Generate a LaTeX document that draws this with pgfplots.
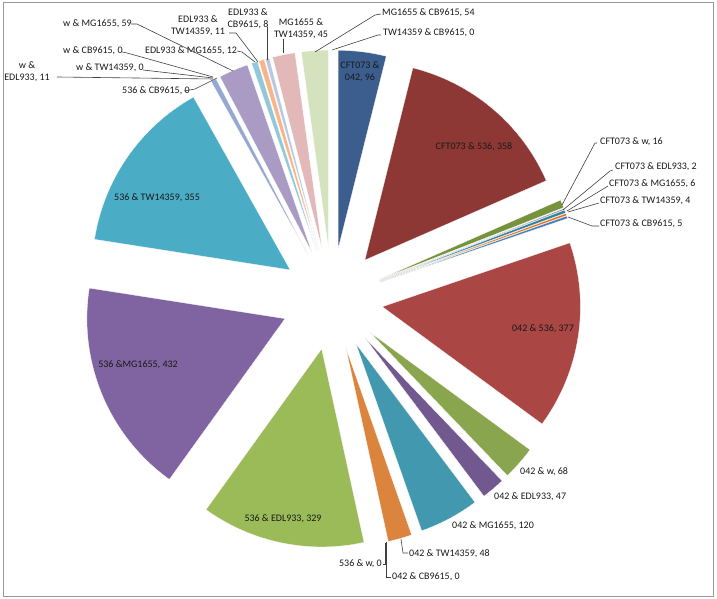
\documentclass[border=0pt]{standalone}
\usepackage{pgfplots}
\pgfplotsset{compat=1.18}
\usepackage{pgfplotstable}
\usepackage{fontspec}
\setmainfont{Carlito}

\definecolor{s0}{HTML}{3B5E8F}
\definecolor{s1}{HTML}{8E3836}
\definecolor{s2}{HTML}{76923C}
\definecolor{s3}{HTML}{5F497A}
\definecolor{s4}{HTML}{31859C}
\definecolor{s5}{HTML}{E46C0A}
\definecolor{s6}{HTML}{4A7EBB}
\definecolor{s7}{HTML}{AA4643}
\definecolor{s8}{HTML}{89A54E}
\definecolor{s9}{HTML}{71588F}
\definecolor{s10}{HTML}{4198AF}
\definecolor{s11}{HTML}{DB843D}
\definecolor{s12}{HTML}{4F81BD}
\definecolor{s13}{HTML}{C0504D}
\definecolor{s14}{HTML}{9BBB59}
\definecolor{s15}{HTML}{8064A2}
\definecolor{s16}{HTML}{4BACC6}
\definecolor{s17}{HTML}{F79646}
\definecolor{s18}{HTML}{95A8D0}
\definecolor{s19}{HTML}{D99694}
\definecolor{s20}{HTML}{C3D69B}
\definecolor{s21}{HTML}{A99BC4}
\definecolor{s22}{HTML}{93C8D8}
\definecolor{s23}{HTML}{F9B58A}
\definecolor{s24}{HTML}{B9C8E2}
\definecolor{s25}{HTML}{E2B9B8}
\definecolor{s26}{HTML}{D4E2BD}
\definecolor{s27}{HTML}{8064A2}

% slices in clockwise order from 12 o'clock
\pgfplotstableread[col sep=comma]{
pair,value
CFT073-042,96
CFT073-536,358
CFT073-w,16
CFT073-EDL933,2
CFT073-MG1655,6
CFT073-TW14359,4
CFT073-CB9615,5
042-536,377
042-w,68
042-EDL933,47
042-MG1655,120
042-TW14359,48
042-CB9615,0
536-w,0
536-EDL933,329
536-MG1655,432
536-TW14359,355
536-CB9615,0
w-EDL933,11
w-TW14359,0
w-CB9615,0
w-MG1655,59
EDL933-MG1655,12
EDL933-TW14359,11
EDL933-CB9615,8
MG1655-TW14359,45
MG1655-CB9615,54
TW14359-CB9615,0
}\piedata

\tikzset{every node/.append style={font=\fontsize{10}{12}\selectfont, text=black!90, inner sep=0pt}}

\begin{document}
\begin{tikzpicture}
\begin{axis}[x=1pt, y=1pt, xmin=0, xmax=717, ymin=0, ymax=599,
  hide axis, clip=true, anchor=south west, at={(0,0)}]
\pgfplotsextra{
  \pgfplotstablegetrowsof{\piedata}
  \pgfmathtruncatemacro\N{\pgfplotsretval-1}
  \gdef\tot{0}
  \foreach \i in {0,...,\N}{
    \pgfplotstablegetelem{\i}{value}\of\piedata
    \pgfmathsetmacro\tmp{\tot+\pgfplotsretval}
    \xdef\tot{\tmp}
  }
  \gdef\cum{0}
  \foreach \i in {0,...,\N}{
    \pgfplotstablegetelem{\i}{value}\of\piedata
    \let\v\pgfplotsretval
    \pgfmathsetmacro\sa{90-(\cum/\tot)*360}
    \pgfmathsetmacro\ea{90-((\cum+\v)/\tot)*360}
    \pgfmathsetmacro\ma{(\sa+\ea)/2}
    \pgfmathsetmacro\ax{332+51*cos(\ma)}
    \pgfmathsetmacro\ay{300+51*sin(\ma)}
    \ifnum\v>0
      \fill[s\i, draw=white, line width=0.25pt] (axis cs:\ax,\ay) -- ++(\sa:198pt)
        arc[start angle=\sa, end angle=\ea, radius=198pt] -- cycle;
    \fi
    \pgfmathsetmacro\tmp{\cum+\v}
    \xdef\cum{\tmp}
  }
}
% border of the chart area
\draw[black!40, line width=0.8pt] (axis cs:3,3) rectangle (axis cs:713,597);

% labels inside slices
\node[align=center] at (axis cs:360,527) {CFT073 \&\\042, 96};
\node at (axis cs:474,452) {CFT073 \& 536, 358};
\node at (axis cs:543,270) {042 \& 536, 377};
\node at (axis cs:138,234) {536 \&MG1655, 432};
\node at (axis cs:157,401) {536 \& TW14359, 355};
\node at (axis cs:283,80) {536 \& EDL933, 329};

% outside labels
\node[anchor=west] at (axis cs:520,127) {042 \& w, 68};
\node[anchor=west] at (axis cs:494,102) {042 \& EDL933, 47};
\node[anchor=west] at (axis cs:452,73) {042 \& MG1655, 120};
\node[anchor=west] at (axis cs:409,45) {042 \& TW14359, 48};
\node[anchor=west] at (axis cs:392,22) {042 \& CB9615, 0};
\node[anchor=east] at (axis cs:382,35) {536 \& w, 0};
\node[anchor=west] at (axis cs:63,575) {w \& MG1655, 59};
\node[align=center] at (axis cs:198,573.5) {EDL933 \&\\TW14359, 11};
\node[align=center] at (axis cs:248,580.5) {EDL933 \&\\CB9615, 8};
\node[align=center] at (axis cs:301,570.5) {MG1655 \&\\TW14359, 45};
\node[anchor=west] at (axis cs:145,548) {EDL933 \& MG1655, 12};
\node[anchor=west] at (axis cs:63,548) {w \& CB9615, 0};
\node[anchor=west] at (axis cs:76,531) {w \& TW14359, 0};
\node[align=center] at (axis cs:27,527) {w \&\\EDL933, 11};
\node[anchor=west] at (axis cs:122,508) {536 \& CB9615, 0};
\node[anchor=west] at (axis cs:382,586) {MG1655 \& CB9615, 54};
\node[anchor=west] at (axis cs:383,566) {TW14359 \& CB9615, 0};
\node[anchor=west] at (axis cs:600,457) {CFT073 \& w, 16};
\node[anchor=west] at (axis cs:615,432) {CFT073 \& EDL933, 2};
\node[anchor=west] at (axis cs:609,415) {CFT073 \& MG1655, 6};
\node[anchor=west] at (axis cs:600,398) {CFT073 \& TW14359, 4};
\node[anchor=west] at (axis cs:600,375) {CFT073 \& CB9615, 5};

% leader lines
\begin{scope}[black!75, line width=0.6pt]
\draw (axis cs:131,575) -- (axis cs:137,575) -- (axis cs:233,528);
\draw (axis cs:229,566) -- (axis cs:236,566) -- (axis cs:258,537);
\draw (axis cs:267,572) -- (axis cs:267,539);
\draw (axis cs:283,560) -- (axis cs:283,546);
\draw (axis cs:237,548) -- (axis cs:242,547) -- (axis cs:255,537);
\draw (axis cs:122,547) -- (axis cs:127,546) -- (axis cs:213,522);
\draw (axis cs:143,529) -- (axis cs:213,521);
\draw (axis cs:57,522) -- (axis cs:213,520);
\draw (axis cs:184,508) -- (axis cs:195,510) -- (axis cs:217,521);
\draw (axis cs:381,585) -- (axis cs:375,584) -- (axis cs:315,547);
\draw (axis cs:381,564) -- (axis cs:378,564) -- (axis cs:332,549);
\draw (axis cs:597,456) -- (axis cs:595,456) -- (axis cs:562,394);
\draw (axis cs:613,429) -- (axis cs:610,428) -- (axis cs:563,389);
\draw (axis cs:608,413) -- (axis cs:567,388);
\draw (axis cs:599,396) -- (axis cs:568,387);
\draw (axis cs:599,373) -- (axis cs:592,373) -- (axis cs:568,382);
\draw (axis cs:401,60) -- (axis cs:403,46) -- (axis cs:408,46);
\draw (axis cs:386,57) -- (axis cs:386,22) -- (axis cs:391,22);
\draw (axis cs:383,35) -- (axis cs:385,35) -- (axis cs:385,56);
\end{scope}
\end{axis}
\pgfresetboundingbox
\path[use as bounding box] (0,0) rectangle (717pt,599pt);
\end{tikzpicture}
\end{document}
